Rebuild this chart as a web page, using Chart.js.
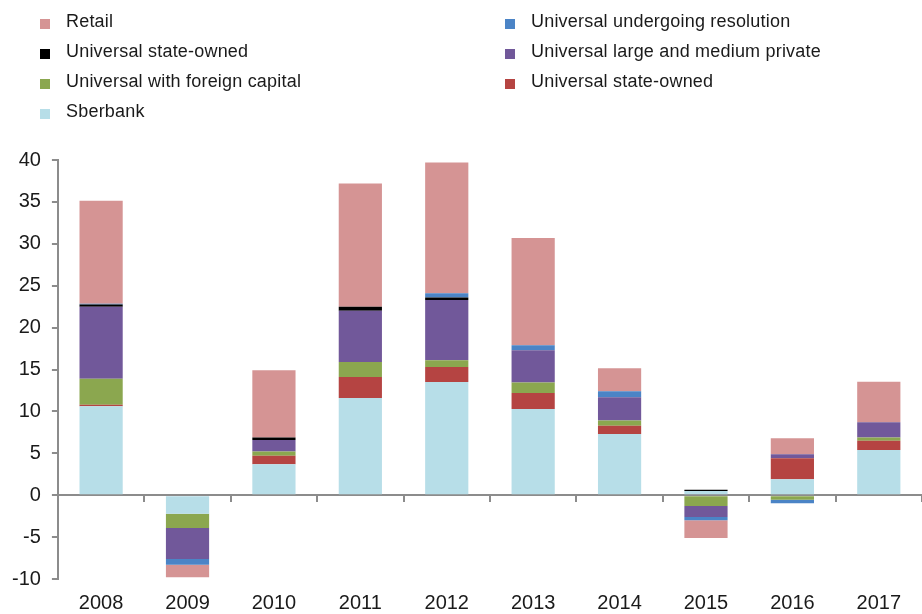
<!DOCTYPE html>
<html>
<head>
<meta charset="utf-8">
<script src="https://cdn.jsdelivr.net/npm/chart.js@4.4.1/dist/chart.umd.min.js"></script>
<style>
    html, body { margin: 0; background: #fff; overflow: hidden; }
    /* a bit taller than the window: chart.js doubles tick padding when sizing the x axis */
    #wrap { position: relative; width: 922px; height: 627px; }
    #legend {
        position: absolute; left: 40px; top: 6px;
        display: grid; grid-template-columns: 465px 320px; grid-auto-rows: 30px;
        font-family: "Liberation Sans", Arial, sans-serif; font-size: 18px; letter-spacing: 0.2px; color: #1a1a1a;
    }
    .item { display: flex; align-items: center; white-space: nowrap; }
    .swatch { flex: 0 0 10px; width: 10px; height: 10px; margin-right: 16px; position: relative; top: 3px; }
</style>
</head>
<body>
<div id="wrap">
    <canvas id="bank-chart"></canvas>
    <div id="legend"></div>
</div>
<script>
const years = ['2008', '2009', '2010', '2011', '2012', '2013', '2014', '2015', '2016', '2017'];

const sberbank = [10.6, -2.2, 3.7, 11.6, 13.5, 10.3, 7.3, 0.5, 1.9, 5.4];
const stateOwnedRed = [0.2, 0, 1.0, 2.5, 1.8, 1.9, 1.0, 0, 2.5, 1.1];
const foreignCapital = [3.1, -1.7, 0.5, 1.8, 0.8, 1.25, 0.6, -1.3, -0.55, 0.4];
const largeMediumPrivate = [8.6, -3.7, 1.4, 6.1, 7.2, 3.85, 2.8, -1.3, 0.5, 1.8];
const stateOwnedBlack = [0.25, 0, 0.3, 0.5, 0.3, 0, 0, 0.15, 0, 0];
const undergoingResolution = [0.1, -0.7, 0, 0, 0.5, 0.6, 0.7, -0.4, -0.4, 0];
const retail = [12.3, -1.5, 8.0, 14.7, 15.6, 12.8, 2.75, -2.1, 1.9, 4.85];

const yTicks = [-10, -5, 0, 5, 10, 15, 20, 25, 30, 35, 40];

const axisGray = '#8c8c8c';
const textColor = '#1a1a1a';

function buildLegend(chart) {
    const box = document.getElementById('legend');
    box.innerHTML = '';
    // legend runs top of stack first, row by row over two columns
    chart.data.datasets.slice().reverse().forEach(ds => {
        const item = document.createElement('div');
        item.className = 'item';
        const swatch = document.createElement('span');
        swatch.className = 'swatch';
        swatch.style.background = ds.backgroundColor;
        const label = document.createElement('span');
        label.textContent = ds.label;
        item.appendChild(swatch);
        item.appendChild(label);
        box.appendChild(item);
    });
}

function displayChart() {
    const ctx = document.getElementById('bank-chart').getContext('2d');
    const chart = new Chart(ctx, {
        type: 'bar',
        data: {
            labels: years,
            datasets: [
                { label: 'Sberbank', data: sberbank, backgroundColor: '#b7dee8' },
                { label: 'Universal state-owned', data: stateOwnedRed, backgroundColor: '#b54442' },
                { label: 'Universal with foreign capital', data: foreignCapital, backgroundColor: '#8ba74f' },
                { label: 'Universal large and medium private', data: largeMediumPrivate, backgroundColor: '#71589a' },
                { label: 'Universal state-owned', data: stateOwnedBlack, backgroundColor: '#000000' },
                { label: 'Universal undergoing resolution', data: undergoingResolution, backgroundColor: '#4b84c6' },
                { label: 'Retail', data: retail, backgroundColor: '#d59494' },
            ].map(ds => Object.assign(ds, {
                xAxisID: 'x',
                borderWidth: 0,
                categoryPercentage: 1,
                barPercentage: 0.5
            }))
        },
        options: {
            responsive: true,
            maintainAspectRatio: false,
            animation: false,
            layout: { padding: { top: 160, left: 1, right: 0, bottom: 0 } },
            plugins: {
                legend: { display: false },
                tooltip: { enabled: false }
            },
            scales: {
                x: {
                    stacked: true,
                    grid: { display: false, drawTicks: false },
                    border: { display: false },
                    ticks: {
                        color: textColor,
                        padding: 12,
                        font: { family: 'Liberation Sans', size: 20 }
                    }
                },
                xZero: {
                    type: 'category',
                    labels: years,
                    position: { y: 0 },
                    z: 1,
                    grid: { offset: true, drawOnChartArea: false, tickLength: 6, color: axisGray, lineWidth: 2 },
                    border: { color: axisGray, width: 2 },
                    ticks: { display: false }
                },
                y: {
                    stacked: true,
                    min: -10,
                    max: 40,
                    afterBuildTicks: axis => { axis.ticks = yTicks.map(v => ({ value: v })); },
                    grid: { drawOnChartArea: false, tickLength: 6, color: axisGray, lineWidth: 2 },
                    border: { color: axisGray, width: 2 },
                    ticks: {
                        color: textColor,
                        padding: 11,
                        font: { family: 'Liberation Sans', size: 20 }
                    }
                }
            }
        }
    });
    buildLegend(chart);
}

document.addEventListener('DOMContentLoaded', displayChart);
</script>
</body>
</html>
